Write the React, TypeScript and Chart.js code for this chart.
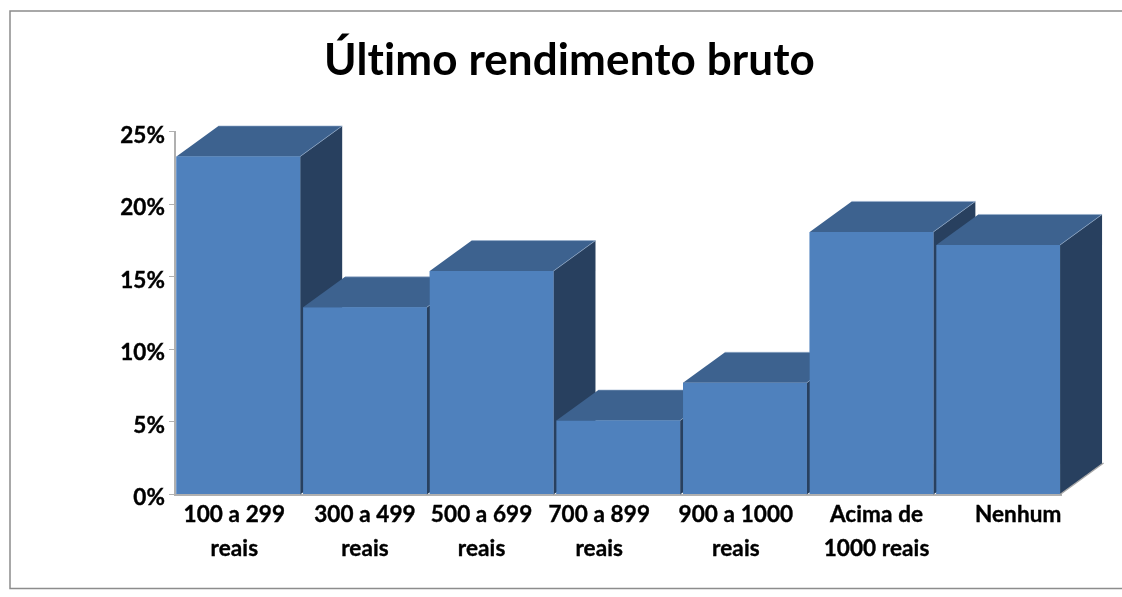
import React, { useEffect, useRef } from "react";
import { Chart, registerables } from "chart.js";

Chart.register(...registerables);

const categories = [
  ["100 a 299", "reais"],
  ["300 a 499", "reais"],
  ["500 a 699", "reais"],
  ["700 a 899", "reais"],
  ["900 a 1000", "reais"],
  ["Acima de", "1000 reais"],
  ["Nenhum"],
];
const values = [23.3, 12.9, 15.4, 5.1, 7.7, 18.1, 17.2];
const yTicks = [0, 5, 10, 15, 20, 25];
const labelShift = [-4, 0, -10, -19, -9, 5, 20];
const titleText = "Último rendimento bruto";

const DX = 42;
const DY = -30.5;
const FONT = "Lato, 'Open Sans', sans-serif";

const poly = (ctx: any, pts: number[][], fill: string) => {
  ctx.beginPath();
  pts.forEach((p, i) => (i ? ctx.lineTo(p[0], p[1]) : ctx.moveTo(p[0], p[1])));
  ctx.closePath();
  ctx.fillStyle = fill;
  ctx.fill();
};

const frame3d = {
  id: "frame3d",
  beforeDraw(chart: any) {
    const ctx = chart.ctx;
    ctx.letterSpacing = "0.1px";
    ctx.save();
    ctx.strokeStyle = "#8c8c8c";
    ctx.lineWidth = 1.5;
    ctx.beginPath();
    ctx.moveTo(1122, 11);
    ctx.lineTo(10, 11);
    ctx.lineTo(10, 588.5);
    ctx.lineTo(1122, 588.5);
    ctx.stroke();
    ctx.restore();
    const items = chart.scales.x.getLabelItems();
    items.forEach((it: any, i: number) => {
      if (!it.__shifted) {
        it.options.translation[0] += labelShift[i] || 0;
        it.__shifted = true;
      }
    });
  },
  afterDatasetsDraw(chart: any) {
    const ctx = chart.ctx;
    const bars = chart.getDatasetMeta(0).data;
    const base = chart.scales.y.getPixelForValue(0);
    ctx.save();
    bars.forEach((bar: any) => {
      const { x, y, width } = bar.getProps(["x", "y", "width"], true);
      const l = x - width / 2;
      const r = x + width / 2;
      poly(ctx, [[r, base], [r + DX, base + DY], [r + DX, y + DY], [r, y]], "#28405f");
      poly(ctx, [[l, y], [l + DX, y + DY], [r + DX, y + DY], [r, y]], "#3d628f");
      ctx.beginPath();
      ctx.moveTo(l + DX, y + DY);
      ctx.lineTo(r + DX, y + DY);
      ctx.lineTo(r, y);
      ctx.strokeStyle = "rgba(150,175,205,0.6)";
      ctx.lineWidth = 1;
      ctx.stroke();
      bar.draw(ctx);
    });
    const last = bars[bars.length - 1];
    const lr = last.x + last.width / 2;
    ctx.beginPath();
    ctx.moveTo(lr, base);
    ctx.lineTo(lr + DX + 1.5, base + DY - 1);
    ctx.strokeStyle = "#a6a6a6";
    ctx.lineWidth = 1.5;
    ctx.stroke();
    ctx.restore();
  },
};

export default function App() {
  const ref = useRef<HTMLCanvasElement>(null);
  useEffect(() => {
    document.body.style.margin = "0";
    document.body.style.background = "#fff";
    const chart = new Chart(ref.current!, {
      type: "bar",
      data: {
        labels: categories,
        datasets: [
          {
            data: values,
            backgroundColor: "#4f81bd",
            borderWidth: 0,
            barPercentage: 0.977,
            categoryPercentage: 1,
          },
        ],
      },
      options: {
        responsive: false,
        animation: false,
        layout: { padding: { left: 77.5, right: 60.5, top: 0, bottom: 0 } },
        plugins: {
          legend: { display: false },
          tooltip: { enabled: false },
          title: {
            display: true,
            text: titleText,
            color: "#000",
            font: { family: FONT, size: 44, weight: "bold", lineHeight: 1.2 },
            padding: { top: 34, bottom: 45 },
          },
        },
        scales: {
          x: {
            grid: { display: false },
            border: { color: "#b0b0b0", width: 2 },
            afterFit(s: any) {
              s.height = 102.5;
            },
            ticks: {
              color: "#000",
              font: { family: FONT, size: 22.5, weight: "bold", lineHeight: 1.51 },
              textStrokeColor: "#000",
              textStrokeWidth: 0.4,
              maxRotation: 0,
              autoSkip: false,
              padding: -5,
            },
          },
          y: {
            min: 0,
            max: 25,
            afterFit(s: any) {
              s.width = 97.5;
            },
            afterBuildTicks(s: any) {
              s.ticks = yTicks.map((value) => ({ value }));
            },
            grid: { drawOnChartArea: false, drawTicks: true, tickLength: 6, color: "#b0b0b0" },
            border: { color: "#b0b0b0", width: 2 },
            ticks: {
              color: "#000",
              font: { family: FONT, size: 22.5, weight: "bold" },
              textStrokeColor: "#000",
              textStrokeWidth: 0.4,
              padding: 4,
              labelOffset: 3.5,
              callback: (v: any) => `${v}%`,
            },
          },
        },
      } as any,
      plugins: [frame3d],
    });
    return () => chart.destroy();
  }, []);
  return <canvas ref={ref} width={1122} height={597} style={{ display: "block" }} />;
}
